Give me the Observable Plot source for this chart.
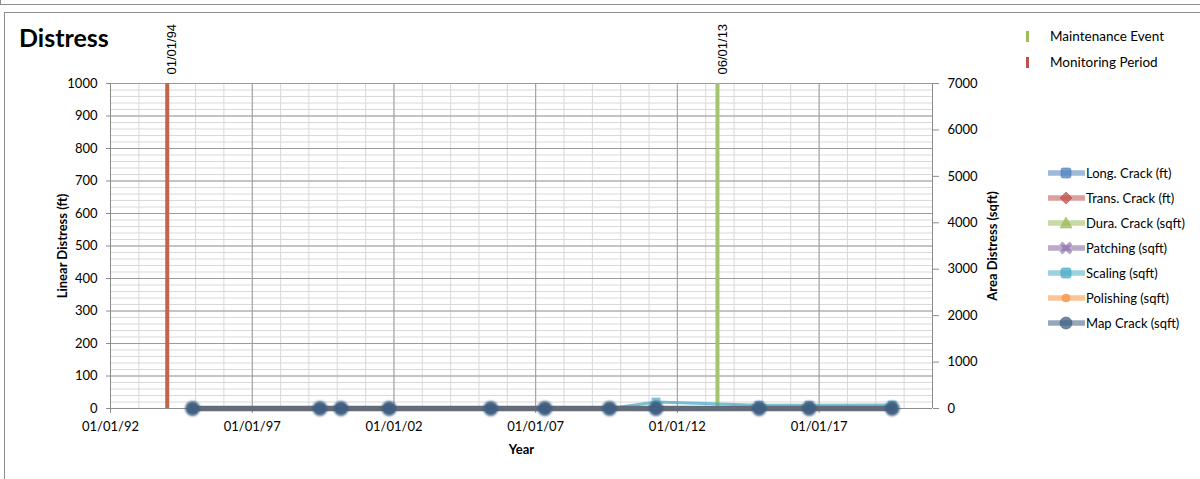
<!DOCTYPE html>
<html><head><meta charset="utf-8">
<script src="https://cdn.jsdelivr.net/npm/d3@7"></script>
<script src="https://cdn.jsdelivr.net/npm/@observablehq/plot@0.6"></script>
<style>
body{margin:0;background:#fff;}
#wrap{position:relative;width:1200px;height:479px;overflow:hidden;font-family:Lato,"Open Sans",sans-serif;color:#000;}
#chart{position:absolute;left:0;top:0;}
.box1{position:absolute;left:0;top:-20px;width:1220px;height:23px;border:1px solid #8c8c8c;}
.box2{position:absolute;left:4px;top:12px;width:1220px;height:500px;border:1px solid #8c8c8c;}
.title{position:absolute;left:19px;top:23px;font-weight:bold;font-size:25px;line-height:28px;}
.ev{position:absolute;left:1026px;height:20px;display:flex;align-items:center;font-size:13.5px;}
.ev i{display:inline-block;width:3px;height:11px;margin-right:21px;filter:blur(0.4px);}
.ser{position:absolute;left:1048px;height:20px;display:flex;align-items:center;font-size:13px;}
.ser svg{margin-right:1px;}
#chart g[aria-label$="-axis label"]{font-weight:bold;}
</style></head>
<body><div id="wrap"></div>
<script>
// ---- data ----
const surveyDates = ["1994-11-24","1999-05-23","2000-02-18","2001-10-30","2005-06-01","2007-04-30","2009-08-10","2011-04-01","2014-11-20","2016-08-25","2019-07-31"];
const longCrack  = [0,0,0,0,0,0,0,0,0,0,0];      // ft
const transCrack = [0,0,0,0,0,0,0,0,0,0,0];      // ft
const duraCrack  = [0,0,0,0,0,0,0,0,0,0,0];      // sqft
const patching   = [0,0,0,0,0,0,0,0,0,0,0];      // sqft
const scaling    = [0,0,0,0,0,0,0,140,70,70,75]; // sqft
const polishing  = [0,0,0,0,0,0,0,0,0,0,0];      // sqft
const mapCrack   = [0,0,0,0,0,0,0,0,0,0,0];      // sqft
const monitoringDates = ["1994-01-01"];
const maintenanceDates = ["2013-06-01"];
const xTickDates = ["1992-01-01","1997-01-01","2002-01-01","2007-01-01","2012-01-01","2017-01-01"];
const xStart = "1992-01-01", xEnd = "2021-01-01";
const linearTicks = [0,100,200,300,400,500,600,700,800,900,1000];
const areaTicks = [0,1000,2000,3000,4000,5000,6000,7000];

const seriesInfo = [
  {name:"Long. Crack (ft)",   values:longCrack,  area:false, color:"#4f81bd", symbol:"square"},
  {name:"Trans. Crack (ft)",  values:transCrack, area:false, color:"#c0504d", symbol:"diamond2"},
  {name:"Dura. Crack (sqft)", values:duraCrack,  area:true,  color:"#9bbb59", symbol:"triangle2"},
  {name:"Patching (sqft)",    values:patching,   area:true,  color:"#8064a2", symbol:"times"},
  {name:"Scaling (sqft)",     values:scaling,    area:true,  color:"#4bacc6", symbol:"square"},
  {name:"Polishing (sqft)",   values:polishing,  area:true,  color:"#f79646", symbol:"circle"},
  {name:"Map Crack (sqft)",   values:mapCrack,   area:true,  color:"#3f5f84", symbol:"circle"}
];
const ratio = 7000/1000; // area axis max / linear axis max
const parse = d3.utcParse("%Y-%m-%d");
const fmt = d3.utcFormat("%m/%d/%y");
const x0 = parse(xStart), x1 = parse(xEnd);
const majorX = xTickDates.map(parse);

const marks = [
  Plot.ruleY(d3.range(0,1001,20), {stroke:"#d9d9d9"}),
  Plot.ruleX(d3.utcYear.range(x0, x1), {stroke:"#d9d9d9"}),
  Plot.ruleY(d3.range(100,1001,100), {stroke:"#9c9c9c"}),
  Plot.ruleX(majorX, {stroke:"#9c9c9c"}),
  Plot.ruleX([x0, x1], {stroke:"#8c8c8c"}),
  Plot.ruleY([0], {stroke:"#8c8c8c"}),
  Plot.axisX(majorX, {tickFormat: fmt, tickSize:5, tickPadding:8, fontSize:13,
    label:"Year", labelAnchor:"center", labelArrow:"none", labelOffset:45, stroke:"#8c8c8c"}),
  Plot.axisY(linearTicks, {anchor:"left", tickFormat: d3.format("d"), tickSize:4, tickPadding:9, fontSize:13, stroke:"#8c8c8c",
    label:"Linear Distress (ft)", labelAnchor:"center", labelArrow:"none", labelOffset:53}),
  Plot.axisY(areaTicks.map(d => d/ratio), {anchor:"right", tickFormat: d => String(Math.round(d*ratio)), tickSize:6, tickPadding:9, fontSize:13, stroke:"#8c8c8c",
    label:"Area Distress (sqft)", labelAnchor:"center", labelArrow:"none", labelOffset:64}),
  Plot.ruleX(monitoringDates.map(parse), {stroke:"#c3654b", strokeWidth:4}),
  Plot.ruleX(maintenanceDates.map(parse), {stroke:"#a5c46e", strokeWidth:4}),
  Plot.text(monitoringDates.map(parse), {x: d => d, frameAnchor:"top", text: d => fmt(d), rotate:-90, textAnchor:"start", dy:-9, fontSize:13, fontFamily:"Liberation Sans"}),
  Plot.text(maintenanceDates.map(parse), {x: d => d, frameAnchor:"top", text: d => fmt(d), rotate:-90, textAnchor:"start", dy:-9, fontSize:13, fontFamily:"Liberation Sans"})
];

for (const s of seriesInfo) {
  const rows = surveyDates.map((d, i) => ({date: parse(d), v: s.area ? s.values[i]/ratio : s.values[i]}));
  const isMap = s.name.startsWith("Map");
  marks.push(Plot.line(rows, {x:"date", y:"v", stroke: isMap ? "#646b78" : s.color, strokeWidth: isMap ? 5.5 : 3, strokeOpacity: isMap ? 1 : 0.75}));
  marks.push(Plot.dot(rows, {x:"date", y:"v", symbol: s.symbol, r: isMap ? 7.5 : 5, fill: isMap ? "#3e5e82" : s.color, fillOpacity: isMap ? 0.95 : 0.7, imageFilter: isMap ? "blur(0.8px)" : undefined}));
}

const chart = Plot.plot({
  width:1200, height:479,
  marginTop:83, marginBottom:71, marginLeft:110, marginRight:268,
  style:{fontFamily:"Lato, 'Open Sans', sans-serif", fontSize:"13px", color:"#000", background:"transparent"},
  x:{type:"utc", domain:[x0, x1]},
  y:{domain:[0,1000]},
  marks
});
chart.id = "chart";
const wrap = document.getElementById("wrap");
wrap.innerHTML = '<div class="box1"></div><div class="box2"></div><div class="title">Distress</div>';
wrap.appendChild(chart);

// event legend
[["Maintenance Event","#9bbb59",26],["Monitoring Period","#c0504d",52]].forEach(([t,c,top]) => {
  const d = document.createElement("div");
  d.className = "ev"; d.style.top = top + "px";
  d.innerHTML = `<i style="background:${c}"></i><span>${t}</span>`;
  wrap.appendChild(d);
});
// series legend
const symPath = {
  square: '<rect x="13" y="5" width="10" height="10" rx="2"/>',
  diamond2: '<path d="M18 4 L24 10 L18 16 L12 10 Z"/>',
  triangle2: '<path d="M18 4 L24 15 L12 15 Z"/>',
  times: '<path d="M13 5 L23 15 M23 5 L13 15" stroke-width="4"/>',
  circle: '<circle cx="18" cy="10" r="6"/>'
};
seriesInfo.forEach((s, i) => {
  const d = document.createElement("div");
  d.className = "ser"; d.style.top = (163 + i*25) + "px";
  const isPol = s.name.startsWith("Polishing");
  let sym = symPath[s.symbol];
  if (isPol) sym = '<circle cx="18" cy="10" r="4"/>';
  d.innerHTML = `<svg width="37" height="20"><line x1="1" x2="36" y1="10" y2="10" stroke="${s.color}" stroke-opacity="0.55" stroke-width="5.5" stroke-linecap="round"/><g fill="${s.color}" stroke="${s.color}" fill-opacity="0.75" stroke-opacity="0.6" stroke-width="1">${sym}</g></svg><span>${s.name}</span>`;
  wrap.appendChild(d);
});
</script>
</body></html>
